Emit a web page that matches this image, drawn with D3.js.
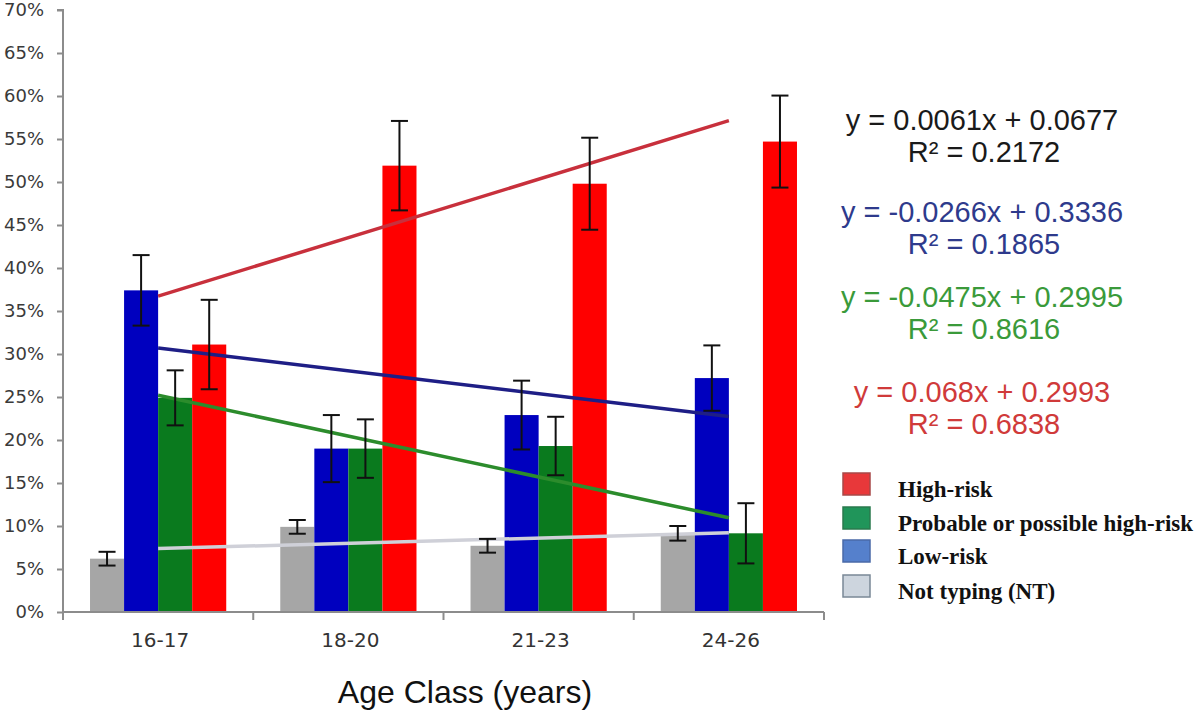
<!DOCTYPE html>
<html>
<head>
<meta charset="utf-8">
<script src="https://cdn.jsdelivr.net/npm/d3@7"></script>
<style>
  html, body { margin: 0; padding: 0; background: #fff; }
  svg { display: block; }
</style>
</head>
<body>
<svg id="chart" width="1200" height="712"></svg>
<script>
// ---------- data ----------
const categories = ["16-17", "18-20", "21-23", "24-26"];
const seriesNames = ["Not typing (NT)", "Low-risk", "Probable or possible high-risk", "High-risk"];
const notTyping = [6.2, 9.9, 7.7, 9.15];
const lowRisk   = [37.4, 19.0, 22.9, 27.2];
const probable  = [24.9, 19.0, 19.3, 9.15];
const highRisk  = [31.1, 51.9, 49.8, 54.7];
const errNotTyping = [0.8, 0.8, 0.8, 0.85];
const errLowRisk   = [4.1, 3.9, 4.0, 3.8];
const errProbable  = [3.2, 3.4, 3.4, 3.5];
const errHighRisk  = [5.2, 5.2, 5.35, 5.35];
const trendSlopes     = [0.0061, -0.0266, -0.0475, 0.068];
const trendIntercepts = [0.0677, 0.3336, 0.2995, 0.2993];
const trendR2         = ["0.2172", "0.1865", "0.8616", "0.6838"];
const yTicks = [0, 0.05, 0.10, 0.15, 0.20, 0.25, 0.30, 0.35, 0.40, 0.45, 0.50, 0.55, 0.60, 0.65, 0.70];
const xTitle = "Age Class (years)";

// ---------- style ----------
const barColors   = ["#a6a6a6", "#0000bf", "#0a7a1e", "#ff0000"];
const trendColors = ["#cfd0d8", "#1e1e86", "#2c8c2c", "#c8303c"];
const eqColors    = ["#1a1a1a", "#2e3a8c", "#3a9a3a", "#d03a3a"];
const legendFill  = ["#cdd5de", "#5580cc", "#20955a", "#e8383a"];
const legendStroke= ["#7a8896", "#4a6aa8", "#2a7a4e", "#a84848"];

const values = [notTyping, lowRisk, probable, highRisk];
const errs   = [errNotTyping, errLowRisk, errProbable, errHighRisk];

const svg = d3.select("#chart");
const pLeft = 63, pRight = 824, pTop = 10, pBottom = 612;

const x = d3.scaleBand().domain(categories).range([pLeft, pRight])
  .paddingInner(0.284).paddingOuter(0.142);
const xs = d3.scaleBand().domain(d3.range(4)).range([0, x.bandwidth()]).padding(0);
const y = d3.scaleLinear().domain([0, 0.70]).range([pBottom, pTop]);

// bars
const data = [];
categories.forEach((c, i) => {
  for (let s = 0; s < 4; s++) data.push({cat: c, s, v: values[s][i] / 100, e: errs[s][i] / 100});
});

svg.append("g").selectAll("rect").data(data).join("rect")
  .attr("x", d => x(d.cat) + xs(d.s))
  .attr("y", d => y(d.v))
  .attr("width", xs.bandwidth())
  .attr("height", d => y(0) - y(d.v))
  .attr("fill", d => barColors[d.s]);

// axes
const yAxis = d3.axisLeft(y).tickValues(yTicks).tickFormat(d3.format(".0%")).tickSize(6).tickPadding(13);
const gy = svg.append("g").attr("transform", `translate(${pLeft},0)`).call(yAxis);
gy.select(".domain").attr("stroke", "#8c8c8c").attr("stroke-width", 2)
  .attr("d", `M-6,${pTop}H0V${pBottom + 7}`);
gy.selectAll(".tick line").attr("stroke", "#8c8c8c").attr("stroke-width", 2);
gy.selectAll(".tick text").attr("font-family", "DejaVu Sans").attr("font-size", 18).attr("fill", "#3a3a3a");

const gx = svg.append("g").attr("transform", `translate(0,${pBottom})`);
gx.append("line").attr("x1", pLeft).attr("x2", pRight).attr("y1", 0).attr("y2", 0)
  .attr("stroke", "#8c8c8c").attr("stroke-width", 2);
const bounds = categories.map(c => x(c) - x.step() * x.paddingInner() / 2).concat([pRight]);
gx.selectAll("line.tk").data(bounds).join("line").attr("class", "tk")
  .attr("x1", d => d).attr("x2", d => d).attr("y1", 0).attr("y2", 8)
  .attr("stroke", "#8c8c8c").attr("stroke-width", 2);
gx.selectAll("text").data(categories).join("text")
  .attr("x", d => x(d) + x.bandwidth() / 2 + 2)
  .attr("y", 35)
  .attr("text-anchor", "middle")
  .attr("font-family", "DejaVu Sans").attr("font-size", 20).attr("fill", "#333")
  .text(d => d);

svg.append("text").attr("x", 465).attr("y", 703).attr("text-anchor", "middle")
  .attr("font-family", "Liberation Sans, Arial").attr("font-size", 32).attr("fill", "#111")
  .text(xTitle);

// trend lines (x = 1..4 at category centres)
const cx = i => x(categories[i]) + x.bandwidth() / 2;
const line = d3.line().x(d => d[0]).y(d => d[1]);
for (let s = 0; s < 4; s++) {
  const pts = [0, 3].map(i => [cx(i), y(trendSlopes[s] * (i + 1) + trendIntercepts[s])]);
  svg.append("path").attr("d", line(pts)).attr("stroke", trendColors[s])
    .attr("stroke-width", 3.5).attr("fill", "none");
}

// error bars
const eg = svg.append("g").attr("stroke", "#111").attr("stroke-width", 2);
data.forEach(d => {
  const xc = x(d.cat) + xs(d.s) + xs.bandwidth() / 2;
  const y1 = y(d.v + d.e), y2 = y(d.v - d.e);
  eg.append("line").attr("x1", xc).attr("x2", xc).attr("y1", y1).attr("y2", y2);
  eg.append("line").attr("x1", xc - 8.5).attr("x2", xc + 8.5).attr("y1", y1).attr("y2", y1);
  eg.append("line").attr("x1", xc - 8.5).attr("x2", xc + 8.5).attr("y1", y2).attr("y2", y2);
});

// equations
const eqBase = [130, 222, 307, 402];
const fmt = v => (v < 0 ? "-" : "") + Math.abs(v).toString();
for (let s = 0; s < 4; s++) {
  const g = svg.append("g").attr("font-family", "Liberation Sans, Arial").attr("font-size", 29)
    .attr("fill", eqColors[s]).attr("text-anchor", "middle");
  g.append("text").attr("x", 982).attr("y", eqBase[s])
    .text(`y = ${fmt(trendSlopes[s])}x + ${fmt(trendIntercepts[s])}`);
  g.append("text").attr("x", 984).attr("y", eqBase[s] + 32)
    .text(`R² = ${trendR2[s]}`);
}

// legend (reverse order)
const legOrder = [3, 2, 1, 0];
const legTop = [473, 507, 540, 575];
legOrder.forEach((s, k) => {
  svg.append("rect").attr("x", 843).attr("y", legTop[k]).attr("width", 27).attr("height", 22)
    .attr("fill", legendFill[s]).attr("stroke", legendStroke[s]).attr("stroke-width", 1.5);
  svg.append("text").attr("x", 898).attr("y", legTop[k] + 24)
    .attr("font-family", "Liberation Serif, Times New Roman").attr("font-weight", "bold")
    .attr("font-size", 23).attr("fill", "#111").text(seriesNames[s]);
});
</script>
</body>
</html>
